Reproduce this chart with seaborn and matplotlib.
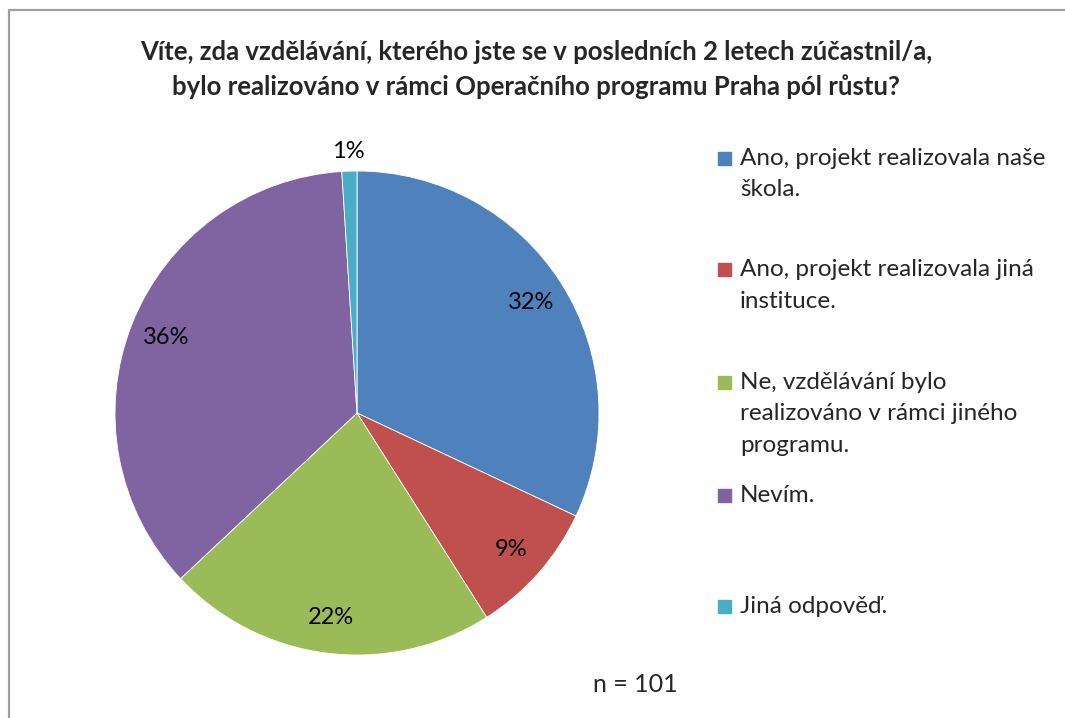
import seaborn as sns
import matplotlib.pyplot as plt
from matplotlib.patches import Rectangle
from matplotlib.lines import Line2D

# odpovedi (podil v %), n = 101
kategorie = ['Ano, projekt realizovala naše\nškola.',
             'Ano, projekt realizovala jiná\ninstituce.',
             'Ne, vzdělávání bylo\nrealizováno v rámci jiného\nprogramu.',
             'Nevím.',
             'Jiná odpověď.']
podil = [32, 9, 22, 36, 1]
barvy = ['#4F81BD', '#C0504D', '#9BBB59', '#8064A2', '#4BACC6']
titulek = ('Víte, zda vzdělávání, kterého jste se v posledních 2 letech zúčastnil/a,\n'
           'bylo realizováno v rámci Operačního programu Praha pól růstu?')
pocet = 'n = 101'

sns.set_theme(style='white')
plt.rcParams['font.family'] = ['Lato', 'DejaVu Sans']

W, H = 1065, 718
fig = plt.figure(figsize=(W / 100, H / 100), dpi=100)
fig.patch.set_facecolor('white')


def fx(px):
    return px / W


def fy(py):
    return 1 - py / H


# ramecek grafu (jen levy a horni okraj je videt)
fig.add_artist(Line2D([fx(8.5), fx(8.5)], [0, fy(9.5)], color='#A0A0A0', lw=1.6))
fig.add_artist(Line2D([fx(8.5), 1], [fy(9.5), fy(9.5)], color='#A0A0A0', lw=1.6))

# kolac - stred (357, 413) px, polomer 242 px
r = 242
cx, cy = 357, 413
ax = fig.add_axes([fx(cx - 1.25 * r), fy(cy + 1.25 * r), 2.5 * r / W, 2.5 * r / H])
paleta = sns.color_palette(barvy)
wedges, texts, autotexts = ax.pie(podil, colors=paleta, startangle=90, counterclock=False,
                                  autopct='%1.0f%%', pctdistance=0.85,
                                  wedgeprops=dict(edgecolor='white', linewidth=0.6),
                                  textprops=dict(fontsize=17, color='black'))
# 1 % je mimo vysec
x, y = autotexts[-1].get_position()
autotexts[-1].set_position((x * 1.08 / 0.85, y * 1.08 / 0.85))
ax.set_xlim(-1.25, 1.25)
ax.set_ylim(-1.25, 1.25)
ax.set_aspect('equal')
ax.axis('off')

# titulek - dva radky
for radek, yb in zip(titulek.split('\n'), [60, 95]):
    fig.text(fx(536), fy(yb), radek, ha='center', va='baseline', fontsize=18.5,
             fontweight='bold')

# legenda
zacatky = [165, 276, 389, 502, 613]
for txt, barva, yb in zip(kategorie, barvy, zacatky):
    fig.add_artist(Rectangle((fx(718), fy(yb)), 13 / W, 13 / H,
                             transform=fig.transFigure, color=barva))
    for i, radek in enumerate(txt.split('\n')):
        fig.text(fx(740), fy(yb + i * 31.5), radek, ha='left', va='baseline',
                 fontsize=17.5)

fig.text(fx(635), fy(692), pocet, ha='center', va='baseline', fontsize=18)

plt.savefig('out.png', dpi=100)
